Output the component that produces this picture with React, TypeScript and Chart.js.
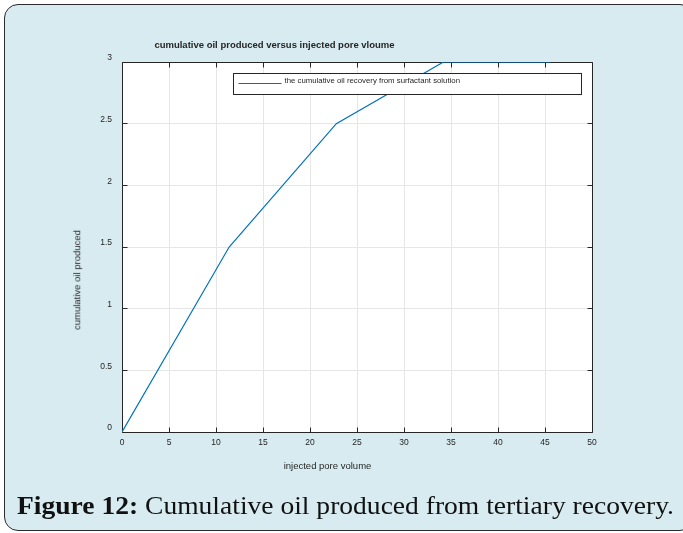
import React, { useEffect, useLayoutEffect, useRef } from 'react';
import { Chart, registerables } from 'chart.js';

Chart.register(...registerables);

// ---- data ----
const injectedPoreVolume = [0, 11.4, 22.8, 34.2, 45.6];
const cumulativeOil = [0, 1.5, 2.5, 3, 3];
const xTickValues = [0, 5, 10, 15, 20, 25, 30, 35, 40, 45, 50];
const yTickValues = [0, 0.5, 1, 1.5, 2, 2.5, 3];
const seriesLabel = 'the cumulative oil recovery from surfactant solution';
const chartTitle = 'cumulative oil produced versus injected pore vloume';
const xTitle = 'injected pore volume';
const yTitle = 'cumulative oil produced';
const captionBold = 'Figure 12:';
const captionRest = ' Cumulative oil produced from tertiary recovery.';

const AXIS_COLOR = '#262626';
const LINE_COLOR = '#0072BD';
const SANS = '"Liberation Sans", Arial, Helvetica, sans-serif';

function alignPx(p: number) {
  return Math.round(p - 0.5) + 0.5;
}

const framePlugin = {
  id: 'matlabFrame',
  beforeDatasetsDraw(chart: any) {
    const { ctx, scales } = chart;
    const xs = scales.x;
    const ys = scales.y;
    const L = alignPx(xs.getPixelForValue(xs.min));
    const R = alignPx(xs.getPixelForValue(xs.max));
    const T = alignPx(ys.getPixelForValue(ys.max));
    const B = alignPx(ys.getPixelForValue(ys.min));
    ctx.save();
    ctx.strokeStyle = AXIS_COLOR;
    ctx.lineWidth = 1;
    ctx.beginPath();
    ctx.rect(L, T, R - L, B - T);
    ctx.stroke();
    const tl = 5;
    ctx.beginPath();
    xTickValues.forEach((v) => {
      const x = alignPx(xs.getPixelForValue(v));
      ctx.moveTo(x, B);
      ctx.lineTo(x, B - tl);
      ctx.moveTo(x, T);
      ctx.lineTo(x, T + tl);
    });
    yTickValues.forEach((v) => {
      const y = alignPx(ys.getPixelForValue(v));
      ctx.moveTo(L, y);
      ctx.lineTo(L + tl, y);
      ctx.moveTo(R, y);
      ctx.lineTo(R - tl, y);
    });
    ctx.stroke();
    ctx.restore();
  },
  afterDatasetsDraw(chart: any) {
    const { ctx, chartArea: a } = chart;
    const ds = chart.data.datasets[0];
    const bx = Math.round(a.left + 111) + 0.5;
    const by = Math.round(a.top + 11) + 0.5;
    const bw = 348;
    const bh = 21;
    ctx.save();
    ctx.fillStyle = '#ffffff';
    ctx.fillRect(bx, by, bw, bh);
    ctx.strokeStyle = AXIS_COLOR;
    ctx.lineWidth = 1;
    ctx.strokeRect(bx, by, bw, bh);
    ctx.strokeStyle = ds.borderColor;
    ctx.lineWidth = 1.2;
    ctx.beginPath();
    ctx.moveTo(bx + 5, by + 10);
    ctx.lineTo(bx + 48, by + 10);
    ctx.stroke();
    ctx.fillStyle = AXIS_COLOR;
    ctx.font = `7.8px ${SANS}`;
    ctx.textBaseline = 'middle';
    ctx.textAlign = 'left';
    ctx.fillText(ds.label, bx + 51, by + 7.5);
    ctx.restore();
  },
};

export default function App() {
  const canvasRef = useRef<HTMLCanvasElement | null>(null);
  const capRef = useRef<HTMLSpanElement | null>(null);

  useLayoutEffect(() => {
    const el = capRef.current;
    if (el) {
      el.style.transform = 'none';
      const w = el.getBoundingClientRect().width;
      if (w > 0) el.style.transform = `scaleX(${657 / w})`;
    }
  }, []);

  useEffect(() => {
    if (!canvasRef.current) return;
    const chart = new Chart(canvasRef.current, {
      type: 'line',
      data: {
        datasets: [
          {
            label: seriesLabel,
            data: injectedPoreVolume.map((x, i) => ({ x, y: cumulativeOil[i] })),
            borderColor: LINE_COLOR,
            backgroundColor: LINE_COLOR,
            borderWidth: 1.2,
            pointRadius: 0,
            tension: 0,
            fill: false,
          },
        ],
      },
      options: {
        responsive: false,
        animation: false,
        maintainAspectRatio: false,
        layout: { padding: { top: 62, right: 91, left: 0, bottom: 0 } },
        plugins: {
          legend: { display: false },
          title: { display: false },
          tooltip: { enabled: false },
        },
        scales: {
          x: {
            type: 'linear',
            min: 0,
            max: 50,
            afterBuildTicks: (s: any) => {
              s.ticks = xTickValues.map((v) => ({ value: v }));
            },
            afterFit: (s: any) => {
              s.height = 101;
            },
            ticks: {
              callback: (v: any) => String(v),
              color: AXIS_COLOR,
              font: { family: SANS, size: 8.5 },
              padding: 6,
              maxRotation: 0,
              autoSkip: false,
            },
            grid: { color: '#e6e6e6', lineWidth: 1, drawTicks: false },
            border: { display: false },
          },
          y: {
            type: 'linear',
            min: 0,
            max: 3,
            afterBuildTicks: (s: any) => {
              s.ticks = yTickValues.map((v) => ({ value: v }));
            },
            afterFit: (s: any) => {
              s.width = 122;
            },
            ticks: {
              callback: (v: any) => String(v),
              color: AXIS_COLOR,
              font: { family: SANS, size: 8.5 },
              padding: 10,
              labelOffset: -4,
              autoSkip: false,
            },
            grid: { color: '#e6e6e6', lineWidth: 1, drawTicks: false },
            border: { display: false },
          },
        },
      },
      plugins: [framePlugin],
    } as any);
    return () => chart.destroy();
  }, []);

  const textStyle: React.CSSProperties = {
    position: 'absolute',
    whiteSpace: 'nowrap',
    fontFamily: SANS,
    color: AXIS_COLOR,
    lineHeight: 1,
  };

  return (
    <div
      style={{
        position: 'fixed',
        left: 0,
        top: 0,
        width: 683,
        height: 533,
        overflow: 'hidden',
        background: '#ffffff',
      }}
    >
      <div
        style={{
          position: 'absolute',
          left: 4,
          top: 4,
          width: 690,
          height: 527,
          boxSizing: 'border-box',
          border: '1.5px solid #2b2b2b',
          borderRadius: 14,
          background: '#d7ebf0',
        }}
      />
      <div style={{ position: 'absolute', left: 122, top: 62, width: 470, height: 370, background: '#fff' }} />
      <canvas
        ref={canvasRef}
        width={683}
        height={533}
        style={{ position: 'absolute', left: 0, top: 0, width: 683, height: 533, display: 'block' }}
      />
      <div
        style={{
          ...textStyle,
          left: 274.5,
          top: 45,
          transform: 'translate(-50%, -50%)',
          fontWeight: 'bold',
          fontSize: 9.5,
        }}
      >
        {chartTitle}
      </div>
      <div
        style={{
          ...textStyle,
          left: 327.5,
          top: 466,
          transform: 'translate(-50%, -50%)',
          fontSize: 9.5,
        }}
      >
        {xTitle}
      </div>
      <div
        style={{
          ...textStyle,
          left: 76.7,
          top: 280,
          transform: 'translate(-50%, -50%) rotate(-90deg)',
          fontSize: 9.5,
        }}
      >
        {yTitle}
      </div>
      <span
        ref={capRef}
        style={{
          position: 'absolute',
          left: 17,
          top: 493,
          whiteSpace: 'nowrap',
          fontFamily: '"Liberation Serif", "Times New Roman", serif',
          fontSize: 26,
          lineHeight: '26px',
          color: '#111',
          transformOrigin: '0 0',
        }}
      >
        <b>{captionBold}</b>
        {captionRest}
      </span>
    </div>
  );
}
